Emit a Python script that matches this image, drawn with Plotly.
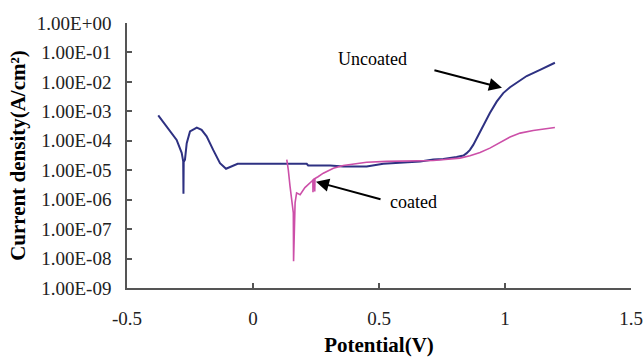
import plotly.graph_objects as go

# Uncoated curve: potential (V), log10 current density (A/cm2)
uncoated_potential = [-0.376, -0.342, -0.303, -0.283, -0.277, -0.276, -0.275, -0.270, -0.263,
                      -0.250, -0.223, -0.204, -0.184, -0.158, -0.131, -0.107, -0.091, -0.061,
                      0.0, 0.1, 0.187, 0.213, 0.219, 0.306, 0.358, 0.451, 0.517, 0.610, 0.663,
                      0.716, 0.755, 0.808, 0.835, 0.848, 0.861, 0.874, 0.888, 0.908, 0.921,
                      0.940, 0.967, 0.993, 1.020, 1.046, 1.086, 1.139, 1.198]
uncoated_logi = [-3.14, -3.52, -3.97, -4.41, -4.70, -5.80, -4.72, -4.64, -4.08,
                 -3.68, -3.55, -3.63, -3.85, -4.31, -4.76, -4.95, -4.90, -4.78,
                 -4.78, -4.78, -4.78, -4.78, -4.84, -4.84, -4.87, -4.87, -4.78, -4.73, -4.70,
                 -4.64, -4.62, -4.55, -4.50, -4.42, -4.31, -4.14, -3.91, -3.57, -3.35,
                 -3.06, -2.67, -2.38, -2.18, -2.02, -1.80, -1.59, -1.35]

# Coated curve
coated_potential = [0.134, 0.140, 0.147, 0.153, 0.160, 0.161, 0.164, 0.167, 0.173, 0.187,
                    0.206, 0.226, 0.2375, 0.238, 0.239, 0.244, 0.245, 0.246, 0.258, 0.279,
                    0.319, 0.358, 0.451, 0.530, 0.716, 0.769, 0.821, 0.861, 0.901, 0.940,
                    0.980, 1.020, 1.060, 1.112, 1.198]
coated_logi = [-4.64, -4.98, -5.55, -6.00, -6.45, -8.09, -6.45, -6.11, -5.77, -5.83,
               -5.59, -5.42, -5.34, -5.75, -5.32, -5.29, -5.72, -5.28, -5.22, -5.10,
               -4.93, -4.84, -4.73, -4.70, -4.67, -4.64, -4.59, -4.51, -4.40, -4.25,
               -4.06, -3.87, -3.74, -3.65, -3.55]

y_tickvals = [1e0, 1e-1, 1e-2, 1e-3, 1e-4, 1e-5, 1e-6, 1e-7, 1e-8, 1e-9]
y_ticktext = ["1.00E+00", "1.00E-01", "1.00E-02", "1.00E-03", "1.00E-04",
              "1.00E-05", "1.00E-06", "1.00E-07", "1.00E-08", "1.00E-09"]
x_tickvals = [-0.5, 0, 0.5, 1, 1.5]
x_ticktext = ["-0.5", "0", "0.5", "1", "1.5"]

uncoated_i = [10 ** v for v in uncoated_logi]
coated_i = [10 ** v for v in coated_logi]

font_family = "Liberation Serif, Times New Roman, serif"

fig = go.Figure()
fig.add_trace(go.Scatter(x=uncoated_potential, y=uncoated_i, mode="lines",
                         line=dict(color="#2E3182", width=2), name="Uncoated",
                         showlegend=False))
fig.add_trace(go.Scatter(x=coated_potential, y=coated_i, mode="lines",
                         line=dict(color="#CC4FA8", width=1.6), name="coated",
                         showlegend=False))

fig.add_annotation(x=0.988, y=-2.20, ax=0.714, ay=-1.59, xref="x", yref="y",
                   axref="x", ayref="y", text="", showarrow=True, arrowhead=2,
                   arrowsize=1.3, arrowwidth=2, arrowcolor="black")
fig.add_annotation(x=0.476, y=-1.22, xref="x", yref="y", text="Uncoated",
                   showarrow=False, font=dict(family=font_family, size=18, color="black"))
fig.add_annotation(x=0.25, y=-5.39, ax=0.512, ay=-6.0, xref="x", yref="y",
                   axref="x", ayref="y", text="", showarrow=True, arrowhead=2,
                   arrowsize=1.3, arrowwidth=2, arrowcolor="black")
fig.add_annotation(x=0.536, y=-6.07, xref="x", yref="y", text="coated", xanchor="left",
                   showarrow=False, font=dict(family=font_family, size=18, color="black"))

axis_line = "#555555"
fig.update_xaxes(range=[-0.5, 1.5], tickvals=x_tickvals, ticktext=x_ticktext,
                 showline=True, linecolor=axis_line, linewidth=1.5, mirror=False,
                 ticks="inside", ticklen=5, tickcolor=axis_line, tickwidth=1.5,
                 showgrid=False, zeroline=False, ticklabelstandoff=12, automargin=False,
                 tickfont=dict(family=font_family, size=19, color="#222222"),
                 title=dict(text="<b>Potential(V)</b>", standoff=12,
                            font=dict(family=font_family, size=21, color="black")))
fig.update_yaxes(type="log", range=[-9, 0], tickvals=y_tickvals, ticktext=y_ticktext,
                 showline=True, linecolor=axis_line, linewidth=1.5,
                 ticks="inside", ticklen=5, tickcolor=axis_line, tickwidth=1.5,
                 showgrid=False, zeroline=False, ticklabelstandoff=10, automargin=False,
                 tickfont=dict(family=font_family, size=19, color="#222222"),
                 title=dict(text="<b>Current density(A/cm²)</b>", standoff=6,
                            font=dict(family=font_family, size=21, color="black")))

fig.update_layout(width=643, height=357, margin=dict(l=127, r=12, t=23, b=69),
                  plot_bgcolor="white", paper_bgcolor="white")

fig.write_html("out.html")
